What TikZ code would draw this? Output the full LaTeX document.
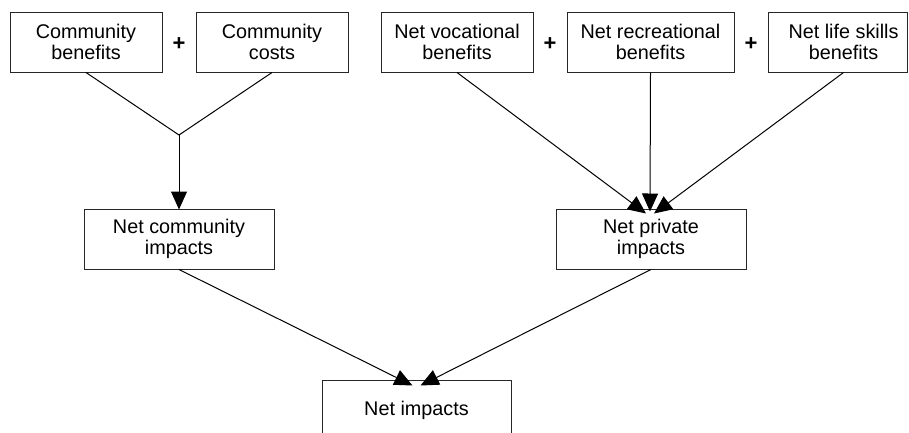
\documentclass[tikz,border=0pt]{standalone}
\usepackage{fontspec}
\setmainfont{Liberation Sans}
\usetikzlibrary{arrows.meta}
\begin{document}
\begin{tikzpicture}[x=1pt,y=-1pt,
  box/.style={draw=black!85, line width=1pt, minimum height=60pt, align=center,
    inner sep=0pt, font=\fontsize{19.8}{21.5}\selectfont},
  plus/.style={font=\fontsize{22}{22}\selectfont\bfseries},
  conn/.style={line width=1pt},
  arr/.style={line width=1pt, -{Triangle[length=18pt,width=16pt]}}]
\useasboundingbox (0,0) rectangle (909,432);
\begin{scope}
\clip (0,0) rectangle (909,432);
\node[box, minimum width=152pt] (b1) at (86,42) {Community\\benefits};
\node[box, minimum width=152pt] (b2) at (272,42) {Community\\costs};
\node[box, minimum width=152pt] (b3) at (457,42) {Net vocational\\benefits};
\node[box, minimum width=167pt] (b4) at (650.5,42) {Net recreational\\benefits};
\node[box, minimum width=139pt] (b5) at (837.5,42) {\hspace*{12pt}Net life skills\\\hspace*{12pt}benefits};
\node[plus] (p1) at (179,44) {+};
\node[plus] (p2) at (550,44) {+};
\node[plus] (p3) at (751,44) {+};
\coordinate (j) at (179,135);
\node[box, minimum width=190pt] (nc) at (179,239) {Net community\\impacts};
\node[box, minimum width=190pt] (np) at (651,239) {Net private\\impacts};
\node[box, minimum width=189pt] (ni) at (416.5,410) {Net impacts};
\draw[conn] (b1.south) -- (j);
\draw[conn] (b2.south) -- (j);
\draw[arr] (j) -- ([yshift=-1pt]nc.north);
\draw[arr] (b3.south) -- ([xshift=-5pt,yshift=-5pt]np.north);
\draw[arr] (b4.south) -- ([xshift=-1pt,yshift=-3pt]np.north);
\draw[arr] ([xshift=6pt]b5.south) -- ([xshift=3pt,yshift=-5pt]np.north);
\draw[arr] (nc.south) -- ([xshift=-4pt,yshift=-6pt]ni.north);
\draw[arr] (np.south) -- ([xshift=4pt,yshift=-6pt]ni.north);
\end{scope}
\end{tikzpicture}
\end{document}
